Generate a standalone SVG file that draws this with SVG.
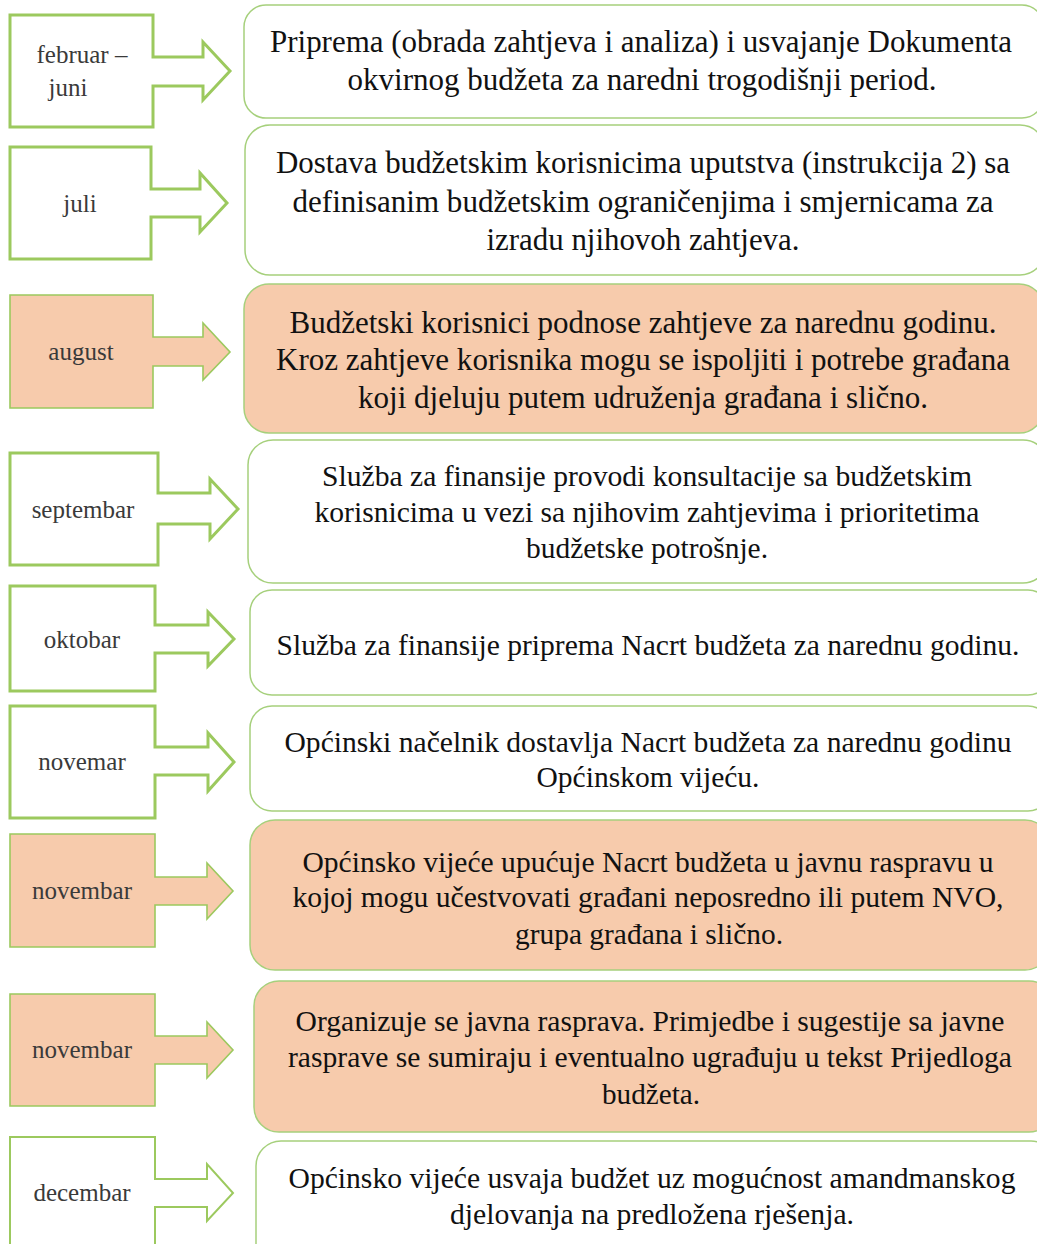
<svg xmlns="http://www.w3.org/2000/svg" width="1037" height="1244" viewBox="0 0 1037 1244">
<style>
.arr{fill:#ffffff;stroke:#9cc95e;stroke-width:3;stroke-linejoin:miter}
.arr.f{fill:#f7cbac;stroke-width:1.6}
.box{fill:#ffffff;stroke:#a6d07c;stroke-width:1.5}
.box.f{fill:#f7cbac}
.lab{font-family:"Liberation Serif","Times New Roman",serif;font-size:25px;fill:#3a3a3a;text-anchor:middle}
.txt{font-family:"Liberation Serif","Times New Roman",serif;font-size:31px;fill:#111111;text-anchor:middle}
.t2{font-size:29.5px}
</style>
<rect width="1037" height="1244" fill="#ffffff"/>
<g id="node1">
<path class="arr" d="M10,15 H153 V57 H203 V42 L230,71 L203,100 V86 H153 V127 H10 Z"/>
<text class="lab" x="82" y="63">februar –</text>
<text class="lab" x="68" y="96">juni</text>
<rect class="box" x="244" y="5" width="800" height="113" rx="22"/>
<text class="txt" x="641" y="52" textLength="742" lengthAdjust="spacingAndGlyphs">Priprema (obrada zahtjeva i analiza) i usvajanje Dokumenta</text>
<text class="txt" x="642" y="90" textLength="589" lengthAdjust="spacingAndGlyphs">okvirnog budžeta za naredni trogodišnji period.</text>
</g>
<g id="node2">
<path class="arr" d="M10,147 H151 V189 H200 V173 L227,203 L200,232 V217 H151 V259 H10 Z"/>
<text class="lab" x="80" y="212">juli</text>
<rect class="box" x="245" y="125" width="800" height="150" rx="25"/>
<text class="txt" x="643" y="173" textLength="734" lengthAdjust="spacingAndGlyphs">Dostava budžetskim korisnicima uputstva (instrukcija 2) sa</text>
<text class="txt" x="643" y="212" textLength="701" lengthAdjust="spacingAndGlyphs">definisanim budžetskim ograničenjima i smjernicama za</text>
<text class="txt" x="643" y="250" textLength="313" lengthAdjust="spacingAndGlyphs">izradu njihovoh zahtjeva.</text>
</g>
<g id="node3">
<path class="arr f" d="M10,295 H153 V337 H203 V323 L230,352 L203,380 V366 H153 V408 H10 Z"/>
<text class="lab" x="81" y="360">august</text>
<rect class="box f" x="244" y="284" width="800" height="149" rx="25"/>
<text class="txt" x="643" y="333" textLength="707" lengthAdjust="spacingAndGlyphs">Budžetski korisnici podnose zahtjeve za narednu godinu.</text>
<text class="txt" x="643" y="370" textLength="734" lengthAdjust="spacingAndGlyphs">Kroz zahtjeve korisnika mogu se ispoljiti i potrebe građana</text>
<text class="txt" x="643" y="408" textLength="570" lengthAdjust="spacingAndGlyphs">koji djeluju putem udruženja građana i slično.</text>
</g>
<g id="node4">
<path class="arr" d="M10,453 H158 V493 H210 V479 L238,509 L210,539 V524 H158 V565 H10 Z"/>
<text class="lab" x="83" y="518">septembar</text>
<rect class="box" x="248" y="440" width="800" height="143" rx="25"/>
<text class="txt t2" x="647" y="486" textLength="650" lengthAdjust="spacingAndGlyphs">Služba za finansije provodi konsultacije sa budžetskim</text>
<text class="txt t2" x="647" y="522" textLength="665" lengthAdjust="spacingAndGlyphs">korisnicima u vezi sa njihovim zahtjevima i prioritetima</text>
<text class="txt t2" x="647" y="558" textLength="242" lengthAdjust="spacingAndGlyphs">budžetske potrošnje.</text>
</g>
<g id="node5">
<path class="arr" d="M10,586 H155 V625 H208 V612 L234,639 L208,666 V653 H155 V691 H10 Z"/>
<text class="lab" x="82" y="648">oktobar</text>
<rect class="box" x="250" y="590" width="800" height="105" rx="22"/>
<text class="txt t2" x="648" y="655" textLength="743" lengthAdjust="spacingAndGlyphs">Služba za finansije priprema Nacrt budžeta za narednu godinu.</text>
</g>
<g id="node6">
<path class="arr" d="M10,706 H155 V747 H208 V733 L234,762 L208,791 V775 H155 V818 H10 Z"/>
<text class="lab" x="82" y="770">novemar</text>
<rect class="box" x="250" y="706" width="800" height="105" rx="22"/>
<text class="txt t2" x="648" y="752" textLength="727" lengthAdjust="spacingAndGlyphs">Općinski načelnik dostavlja Nacrt budžeta za narednu godinu</text>
<text class="txt t2" x="648" y="787" textLength="223" lengthAdjust="spacingAndGlyphs">Općinskom vijeću.</text>
</g>
<g id="node7">
<path class="arr f" d="M10,834 H155 V877 H207 V863 L233,891 L207,919 V905 H155 V947 H10 Z"/>
<text class="lab" x="82" y="899">novembar</text>
<rect class="box f" x="250" y="820" width="800" height="150" rx="25"/>
<text class="txt t2" x="648" y="872" textLength="691" lengthAdjust="spacingAndGlyphs">Općinsko vijeće upućuje Nacrt budžeta u javnu raspravu u</text>
<text class="txt t2" x="648" y="907" textLength="711" lengthAdjust="spacingAndGlyphs">kojoj mogu učestvovati građani neposredno ili putem NVO,</text>
<text class="txt t2" x="649" y="944" textLength="268" lengthAdjust="spacingAndGlyphs">grupa građana i slično.</text>
</g>
<g id="node8">
<path class="arr f" d="M10,994 H155 V1036 H207 V1022 L233,1050 L207,1078 V1064 H155 V1106 H10 Z"/>
<text class="lab" x="82" y="1058">novembar</text>
<rect class="box f" x="254" y="981" width="800" height="151" rx="25"/>
<text class="txt t2" x="650" y="1031" textLength="709" lengthAdjust="spacingAndGlyphs">Organizuje se javna rasprava. Primjedbe i sugestije sa javne</text>
<text class="txt t2" x="650" y="1067" textLength="724" lengthAdjust="spacingAndGlyphs">rasprave se sumiraju i eventualno ugrađuju u tekst Prijedloga</text>
<text class="txt t2" x="651" y="1104" textLength="98" lengthAdjust="spacingAndGlyphs">budžeta.</text>
</g>
<g id="node9">
<path class="arr" style="stroke-width:2" d="M10,1137 H155 V1179 H207 V1164 L233,1193 L207,1221 V1207 H155 V1260 H10 Z"/>
<text class="lab" x="82" y="1201">decembar</text>
<rect class="box" x="256" y="1141" width="800" height="130" rx="25"/>
<text class="txt t2" x="652" y="1188" textLength="727" lengthAdjust="spacingAndGlyphs">Općinsko vijeće usvaja budžet uz mogućnost amandmanskog</text>
<text class="txt t2" x="652" y="1224" textLength="404" lengthAdjust="spacingAndGlyphs">djelovanja na predložena rješenja.</text>
</g>
<g id="connectors"></g>
</svg>
